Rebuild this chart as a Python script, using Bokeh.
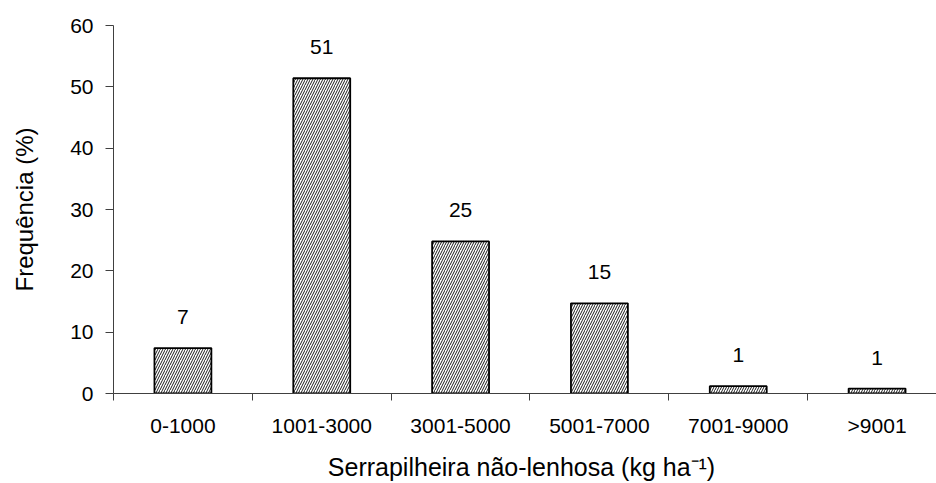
from bokeh.plotting import figure
from bokeh.models import FixedTicker, Range1d, ColumnDataSource
from bokeh.core.properties import value
from bokeh.embed import file_html
from bokeh.resources import INLINE

categories = ["0-1000", "1001-3000", "3001-5000", "5001-7000", "7001-9000", ">9001"]
frequencies = [7.4, 51.4, 24.8, 14.7, 1.2, 0.8]
value_labels = ["7", "51", "25", "15", "1", "1"]
y_ticks = [0, 10, 20, 30, 40, 50, 60]

FONT = "Liberation Sans"

xs = [i + 0.5 for i in range(len(categories))]
src = ColumnDataSource(dict(x=xs, top=frequencies, lab=value_labels))

p = figure(width=936, height=483, output_backend="svg", toolbar_location=None,
           x_range=Range1d(0, 5.928), y_range=Range1d(0, 60),
           min_border_left=113, min_border_right=0, min_border_top=25, min_border_bottom=89)
p.outline_line_color = None
p.grid.grid_line_color = None
p.background_fill_color = "white"
p.border_fill_color = "white"

p.vbar(x="x", top="top", width=0.41, bottom=0, source=src,
       fill_color="white", line_color="black", line_width=1.8,
       hatch_pattern="/", hatch_scale=5, hatch_weight=1, hatch_color="#1a1a1a")

p.text(x="x", y="top", text="lab", source=src, y_offset=-31,
       text_align="center", text_baseline="middle",
       text_font=value(FONT), text_font_size="21px", text_color="black")

# x axis
xa = p.xaxis[0]
xa.ticker = FixedTicker(ticks=xs, minor_ticks=list(range(len(categories) + 1)))
xa.major_label_overrides = {x: c for x, c in zip(xs, categories)}
xa.major_tick_out = 0
xa.major_tick_in = 0
xa.minor_tick_out = 7
xa.minor_tick_in = 0
xa.minor_tick_line_color = "#404040"
xa.axis_line_color = "#404040"
xa.major_label_standoff = 13
xa.major_label_text_font = FONT
xa.major_label_text_font_size = "21px"
xa.major_label_text_color = "black"
xa.axis_label = "Serrapilheira  não-lenhosa (kg ha⁻¹)"
xa.axis_label_text_font = FONT
xa.axis_label_text_font_size = "25px"
xa.axis_label_text_font_style = "normal"
xa.axis_label_text_color = "black"
xa.axis_label_standoff = 13

# y axis
ya = p.yaxis[0]
ya.ticker = FixedTicker(ticks=y_ticks)
ya.major_tick_out = 8
ya.major_tick_in = 0
ya.minor_tick_line_color = None
ya.axis_line_color = "#404040"
ya.major_tick_line_color = "#404040"
ya.major_label_standoff = 12
ya.major_label_text_font = FONT
ya.major_label_text_font_size = "21px"
ya.major_label_text_color = "black"
ya.axis_label = "Frequência (%)"
ya.axis_label_text_font = FONT
ya.axis_label_text_font_size = "24px"
ya.axis_label_text_font_style = "normal"
ya.axis_label_text_color = "black"
ya.axis_label_standoff = 29

open("out.html", "w").write(file_html(p, INLINE))
